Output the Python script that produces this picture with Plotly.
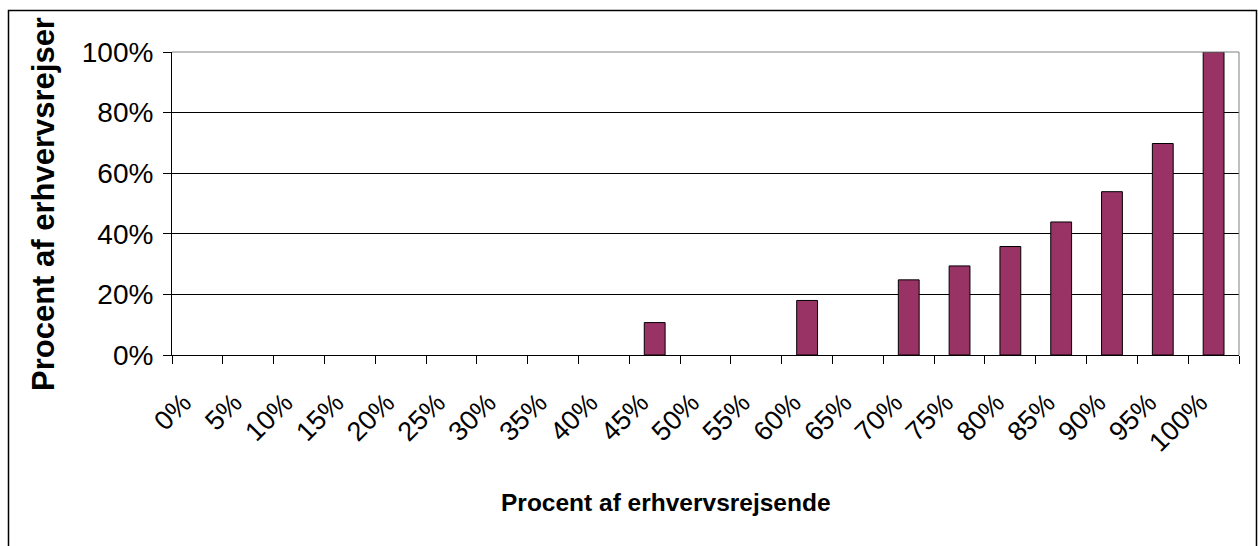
import plotly.graph_objects as go

categories = ["0%", "5%", "10%", "15%", "20%", "25%", "30%", "35%", "40%", "45%",
              "50%", "55%", "60%", "65%", "70%", "75%", "80%", "85%", "90%", "95%", "100%"]
values = [0, 0, 0, 0, 0, 0, 0, 0, 0, 0.107,
          0, 0, 0.18, 0, 0.248, 0.294, 0.358, 0.439, 0.539, 0.698, 1.0]
y_ticks = [0, 0.2, 0.4, 0.6, 0.8, 1.0]
y_tick_labels = ["0%", "20%", "40%", "60%", "80%", "100%"]
x_title = "Procent af erhvervsrejsende"
y_title = "Procent af erhvervsrejser"

W, H = 1258, 546
L, R, T, B = 172, 19, 52, 191
pw, ph = W - L - R, H - T - B

def px(x):
    return (x - L) / pw

def py(y):
    return (H - B - y) / ph

FONT = "Liberation Sans, Arial, sans-serif"

# zero-height bars are not drawn (no outline stub), as in the reference
bar_y = [v if v > 0 else None for v in values]

fig = go.Figure(go.Bar(
    x=categories, y=bar_y,
    marker=dict(color="#993366", line=dict(color="black", width=1)),
    width=0.41,
))

fig.update_layout(
    width=W, height=H,
    margin=dict(l=L, r=R, t=T, b=B),
    paper_bgcolor="white", plot_bgcolor="white",
    showlegend=False,
    font=dict(family=FONT, color="black"),
    xaxis=dict(
        type="category", categoryorder="array", categoryarray=categories,
        tickson="boundaries", ticks="outside", ticklen=8,
        tickcolor="black", tickwidth=1, showline=True, linecolor="black", linewidth=1,
        showgrid=False, tickangle=-45, tickfont=dict(size=27, family=FONT),
        ticklabelstandoff=20, ticklabelshift=-14,
    ),
    yaxis=dict(
        range=[0, 1], tickvals=y_ticks, ticktext=y_tick_labels,
        ticks="outside", ticklen=8, tickcolor="black", tickwidth=1,
        showline=True, linecolor="black", linewidth=1,
        showgrid=True, gridcolor="black", gridwidth=1, zeroline=False,
        tickfont=dict(size=28, family=FONT), ticklabelstandoff=4,
    ),
    shapes=[
        dict(type="line", xref="paper", yref="paper", x0=0, x1=1, y0=1, y1=1,
             line=dict(color="#808080", width=1)),
        dict(type="line", xref="paper", yref="paper", x0=1, x1=1, y0=0, y1=1,
             line=dict(color="#808080", width=1)),
        dict(type="rect", xref="paper", yref="paper",
             x0=px(8.5), x1=px(1256.5), y0=py(560), y1=py(10.5),
             line=dict(color="black", width=1.5)),
    ],
    annotations=[
        dict(text=x_title, xref="paper", yref="paper", x=px(666), y=py(502),
             xanchor="center", yanchor="middle", showarrow=False,
             font=dict(size=24.5, family=FONT, color="black", weight="bold")),
        dict(text=y_title, xref="paper", yref="paper", x=px(43), y=py(204),
             xanchor="center", yanchor="middle", showarrow=False, textangle=-90,
             font=dict(size=31, family=FONT, color="black", weight="bold")),
    ],
)

fig.write_html(
    "out.html",
    config={"displayModeBar": False},
    post_script="document.body.style.margin='0';document.body.style.overflow='hidden';",
)
